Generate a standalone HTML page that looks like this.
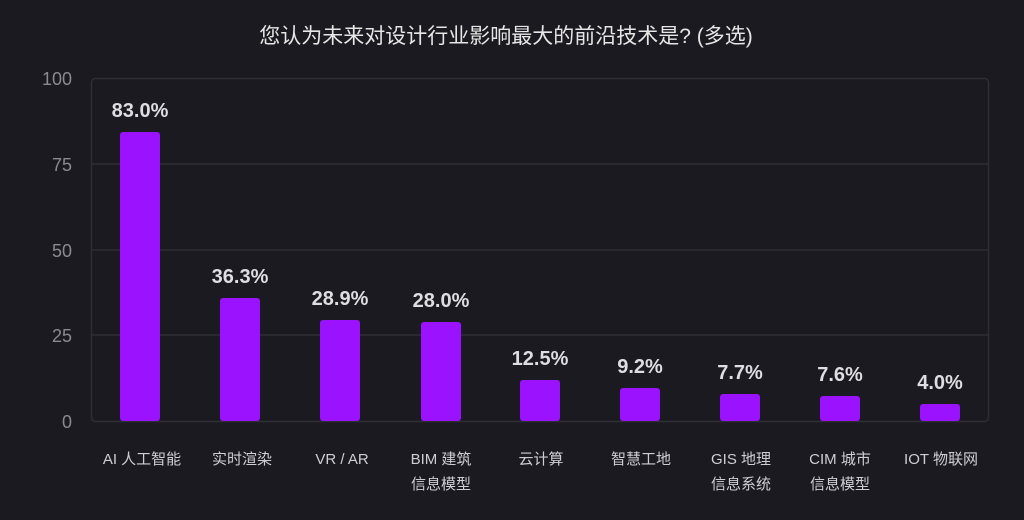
<!DOCTYPE html>
<html><head><meta charset="utf-8"><style>
html,body{margin:0;padding:0;background:#1b1a20;}
svg{display:block}
text{font-family:"Liberation Sans","Noto Sans CJK SC",sans-serif;}
</style></head><body>
<svg width="1024" height="520" viewBox="0 0 1024 520">
<rect width="1024" height="520" fill="#1b1a20"/>
<text x="506" y="43" text-anchor="middle" font-size="21" fill="#e6e6e6">您认为未来对设计行业影响最大的前沿技术是? (多选)</text>
<rect x="91.5" y="78.5" width="897" height="343" rx="4" fill="none" stroke="#2f2e34" stroke-width="1.5"/>
<g stroke="#2f2e34" stroke-width="1.5">
<line x1="92" y1="164" x2="988" y2="164"/>
<line x1="92" y1="250" x2="988" y2="250"/>
<line x1="92" y1="335" x2="988" y2="335"/>
</g>
<g font-size="18" fill="#8a8990" text-anchor="end">
<text x="72" y="85">100</text><text x="72" y="171">75</text><text x="72" y="257">50</text><text x="72" y="342">25</text><text x="72" y="428">0</text>
</g>
<g fill="#9a12ff">
<rect x="120" y="132" width="40" height="289" rx="3"/>
<rect x="220" y="298" width="40" height="123" rx="3"/>
<rect x="320" y="320" width="40" height="101" rx="3"/>
<rect x="421" y="322" width="40" height="99" rx="3"/>
<rect x="520" y="380" width="40" height="41" rx="3"/>
<rect x="620" y="388" width="40" height="33" rx="3"/>
<rect x="720" y="394" width="40" height="27" rx="3"/>
<rect x="820" y="396" width="40" height="25" rx="3"/>
<rect x="920" y="404" width="40" height="17" rx="3"/>
</g>
<g font-size="20" font-weight="bold" fill="#dedde2" text-anchor="middle">
<text x="140" y="117">83.0%</text>
<text x="240" y="283">36.3%</text>
<text x="340" y="305">28.9%</text>
<text x="441" y="307">28.0%</text>
<text x="540" y="365">12.5%</text>
<text x="640" y="373">9.2%</text>
<text x="740" y="379">7.7%</text>
<text x="840" y="381">7.6%</text>
<text x="940" y="389">4.0%</text>
</g>
<g font-size="15" fill="#cfced4" text-anchor="middle">
<text x="142" y="464">AI 人工智能</text>
<text x="242" y="464">实时渲染</text>
<text x="342" y="464">VR / AR</text>
<text x="441" y="464">BIM 建筑</text><text x="441" y="489">信息模型</text>
<text x="541" y="464">云计算</text>
<text x="641" y="464">智慧工地</text>
<text x="741" y="464">GIS 地理</text><text x="741" y="489">信息系统</text>
<text x="840" y="464">CIM 城市</text><text x="840" y="489">信息模型</text>
<text x="941" y="464">IOT 物联网</text>
</g>
</svg>
</body></html>
